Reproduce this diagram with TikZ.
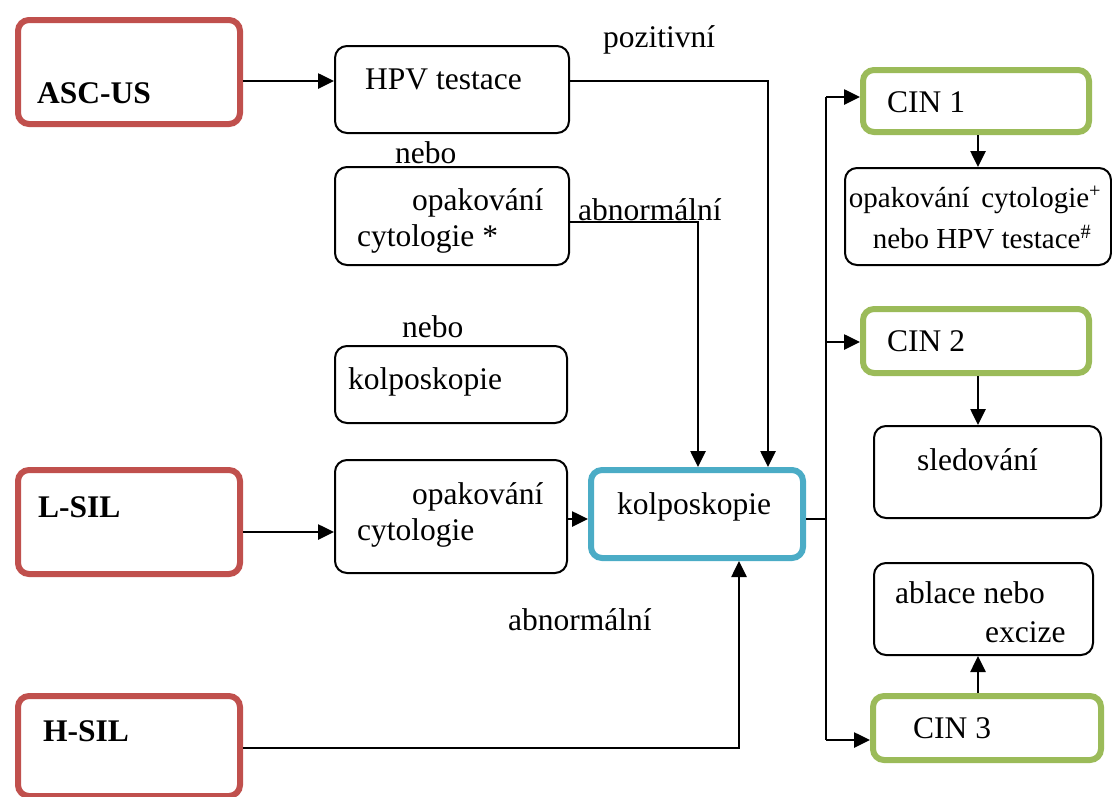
\documentclass[tikz,border=0pt]{standalone}
\usepackage{fontspec}
\setmainfont{Liberation Serif}
\usetikzlibrary{arrows.meta}
\definecolor{cred}{HTML}{C0504D}
\definecolor{cblue}{HTML}{4BACC6}
\definecolor{cgreen}{HTML}{9BBB59}
\begin{document}
\begin{tikzpicture}[x=1pt,y=-1pt,
  colbox/.style={draw=#1,line width=6pt,rounded corners=11pt,inner sep=0pt},
  thinbox/.style={draw=black,line width=2pt,rounded corners=12pt,inner sep=0pt},
  txt/.style={inner sep=0pt,anchor=base west,font=\fontsize{31.5}{36}\selectfont},
  btxt/.style={txt,font=\fontsize{31.5}{36}\selectfont\bfseries},
  stxt/.style={inner sep=0pt,anchor=base,font=\fontsize{29}{34}\selectfont},
  arr/.style={line width=2.6pt,-{Triangle[length=16pt,width=15pt]}},
  ln/.style={line width=2.6pt}]
\useasboundingbox (0,0) rectangle (1112,796);
% left column
\node[colbox=cred,minimum width=222pt,minimum height=104pt] (asc) at (129,72) {};
\node[colbox=cred,minimum width=222pt,minimum height=104pt] (lsil) at (129,522) {};
\node[colbox=cred,minimum width=222pt,minimum height=100pt] (hsil) at (129,746) {};
\node[btxt] (tasc) at (37,103) {ASC-US};
\node[btxt] (tlsil) at (38,517) {L-SIL};
\node[btxt] (thsil) at (43,741) {H-SIL};
% middle column
\node[thinbox,minimum width=234pt,minimum height=87pt] (hpv) at (452,89.5) {};
\node[txt] (thpv) at (365,89) {HPV testace};
\node[txt] (tpoz) at (603,47) {pozitivní};
\node[txt] (tnebo1) at (395,163) {nebo};
\node[thinbox,minimum width=234pt,minimum height=98pt] (opak) at (452,216) {};
\node[txt] (topak1) at (412,210) {opakování};
\node[txt] (topak2) at (357,246) {cytologie *};
\node[txt] (tabn1) at (578,220) {abnormální};
\node[txt] (tnebo2) at (402,337) {nebo};
\node[thinbox,minimum width=232pt,minimum height=77pt] (kolpt) at (451,384.5) {};
\node[txt] (tkolpt) at (348,389) {kolposkopie};
\node[thinbox,minimum width=232pt,minimum height=113pt] (opakl) at (451,516.5) {};
\node[txt] (topakl1) at (412,504) {opakování};
\node[txt] (topakl2) at (357,540) {cytologie};
\node[colbox=cblue,minimum width=212pt,minimum height=88pt] (kolp) at (697,514) {};
\node[txt] (tkolp) at (617,514) {kolposkopie};
\node[txt] (tabn2) at (508,630) {abnormální};
% right column
\node[colbox=cgreen,minimum width=226pt,minimum height=62pt] (cin1) at (976,101) {};
\node[txt] (tcin1) at (887,112) {CIN 1};
\node[thinbox,minimum width=266pt,minimum height=97pt] (rep) at (978,216.5) {};
\node[stxt] (trep1) at (975,207) {opakování\hspace{0.4em}cytologie\textsuperscript{+}};
\node[stxt] (trep2) at (982,248) {nebo HPV testace\textsuperscript{\#}};
\node[colbox=cgreen,minimum width=226pt,minimum height=64pt] (cin2) at (976,341) {};
\node[txt] (tcin2) at (887,351) {CIN 2};
\node[thinbox,minimum width=227pt,minimum height=92pt] (sled) at (987.5,472) {};
\node[txt] (tsled) at (917,470) {sledování};
\node[thinbox,minimum width=219pt,minimum height=92pt] (abl) at (983.5,609) {};
\node[txt] (tabl1) at (895,603) {ablace nebo};
\node[txt] (tabl2) at (985,642) {excize};
\node[colbox=cgreen,minimum width=228pt,minimum height=64pt] (cin3) at (987,728) {};
\node[txt] (tcin3) at (913,738) {CIN 3};
% connectors
\coordinate (hub) at (826,519);
\coordinate (tophub) at (826,97);
\coordinate (bothub) at (826,740);
\draw[arr] (asc.east |- 0,81) -- (hpv.west |- 0,81);
\draw[arr] (lsil.east |- 0,532) -- (opakl.west |- 0,532);
\draw[arr] (opakl.east |- 0,519) -- (kolp.west |- 0,519);
\draw[arr] (hpv.east |- 0,81) -| (kolp.north -| 768,0);
\draw[arr] (opak.east |- 0,222) -| (kolp.north -| 698,0);
\draw[arr] (hsil.east |- 0,748) -| (kolp.south -| 739,0);
\draw[ln] (kolp.east |- hub) -- (hub);
\draw[ln] (tophub) -- (bothub);
\draw[arr] (tophub) -- (cin1.west |- tophub);
\draw[arr] (826,342) -- (cin2.west |- 0,342);
\draw[arr] (bothub) -- (cin3.west |- bothub);
\draw[arr] (cin1.south -| 978,0) -- (rep.north -| 978,0);
\draw[arr] (cin2.south -| 978,0) -- (sled.north -| 978,0);
\draw[arr] (cin3.north -| 978,0) -- (abl.south -| 978,0);
\end{tikzpicture}
\end{document}
